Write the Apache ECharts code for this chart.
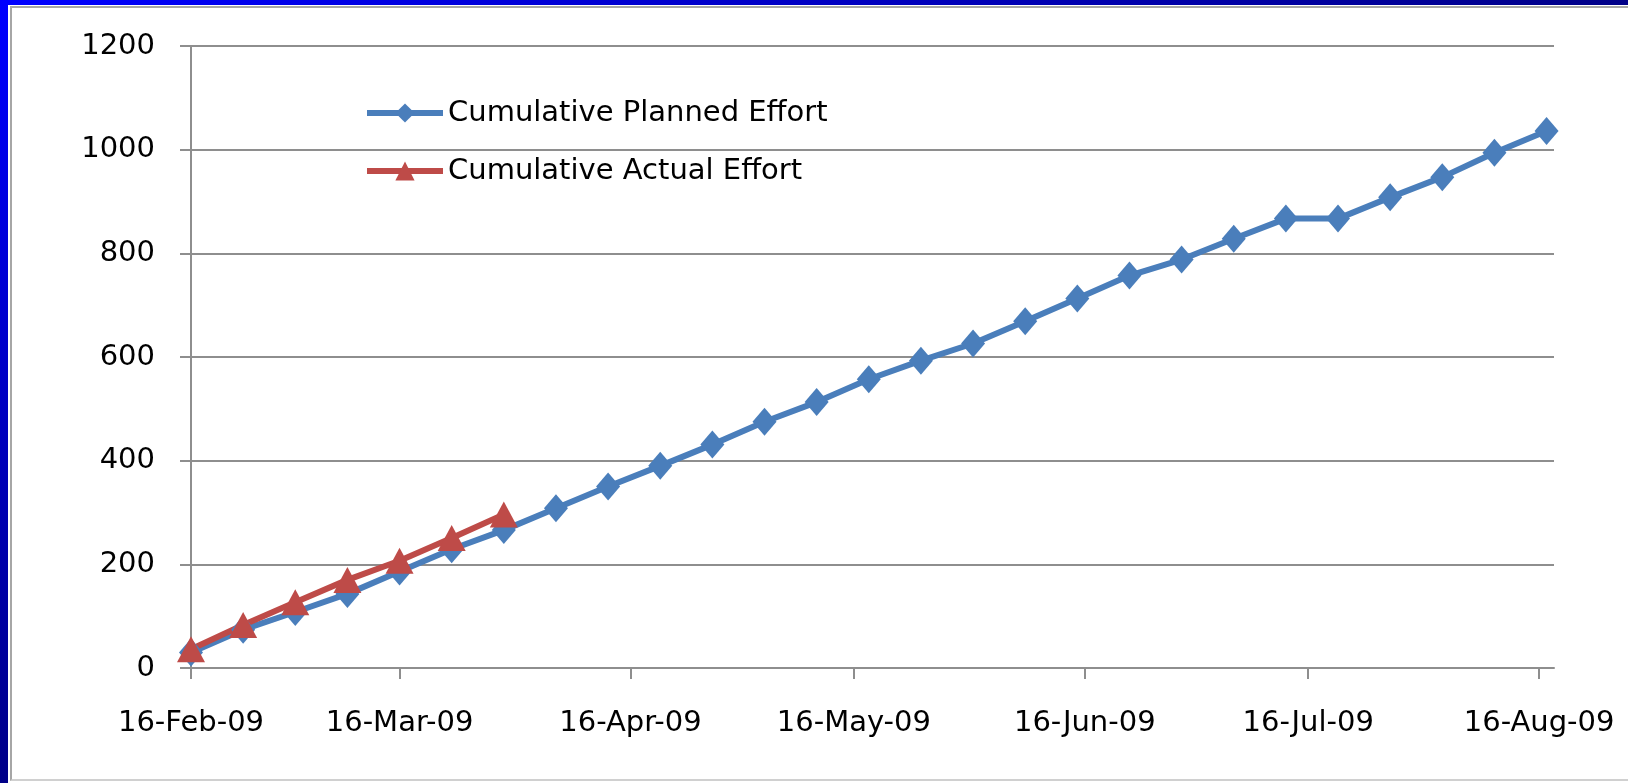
<!DOCTYPE html>
<html>
<head>
<meta charset="utf-8">
<script src="https://cdn.jsdelivr.net/npm/echarts@6/dist/echarts.min.js"></script>
<style>
  html, body { margin: 0; padding: 0; width: 1628px; height: 783px; overflow: hidden; background: #00008a; }
  #topStrip { position: absolute; left: 0; top: 0; width: 1628px; height: 5px; background: linear-gradient(to right, #0000ff, #000088); }
  #leftStrip { position: absolute; left: 0; top: 0; width: 8px; height: 783px; background: linear-gradient(to bottom, #0000ff, #000088); }
  #paper { position: absolute; left: 8px; top: 5px; width: 1620px; height: 778px; background: #fff; }
  #frame { position: absolute; left: 10px; top: 6px; width: 1618px; height: 775px; border-left: 2px solid #a6a6a6; border-top: 2px solid #a6a6a6; border-bottom: 2px solid #d0d0d0; box-sizing: border-box; }
  #chart { position: absolute; left: 0; top: 0; width: 1628px; height: 783px; }
</style>
</head>
<body>
<div id="topStrip"></div>
<div id="leftStrip"></div>
<div id="paper"></div>
<div id="frame"></div>
<div id="chart"></div>
<script>
// weekly dates
const dates = ['2009-02-16', '2009-02-23', '2009-03-02', '2009-03-09', '2009-03-16', '2009-03-23', '2009-03-30',
  '2009-04-06', '2009-04-13', '2009-04-20', '2009-04-27', '2009-05-04', '2009-05-11', '2009-05-18', '2009-05-25',
  '2009-06-01', '2009-06-08', '2009-06-15', '2009-06-22', '2009-06-29', '2009-07-06', '2009-07-13', '2009-07-20',
  '2009-07-27', '2009-08-03', '2009-08-10', '2009-08-17'];
const planned = [30, 74, 108, 143, 186, 229, 266, 308, 350, 390, 431, 475, 513, 557, 593, 626, 669, 713, 757, 788, 828, 867, 867, 908, 947, 994, 1036];
const actual = [36, 83, 127, 170, 207, 251, 296];
// x axis ticks (16th of each month)
const monthTicks = ['2009-02-16', '2009-03-16', '2009-04-16', '2009-05-16', '2009-06-16', '2009-07-16', '2009-08-16'];
const monthNames = ['Jan', 'Feb', 'Mar', 'Apr', 'May', 'Jun', 'Jul', 'Aug', 'Sep', 'Oct', 'Nov', 'Dec'];

function toTime(s) {
  const p = s.split('-');
  return Date.UTC(+p[0], +p[1] - 1, +p[2]);
}
function fmt(v) {
  const d = new Date(v);
  return d.getUTCDate() + '-' + monthNames[d.getUTCMonth()] + '-' + String(d.getUTCFullYear()).slice(2);
}

const font = 'DejaVu Sans';
const gray = '#8e8e8e';
const tickTimes = monthTicks.map(toTime);

const myChart = echarts.init(document.getElementById('chart'));
const opt = {
  backgroundColor: 'transparent',
  animation: false,
  color: ['#4a7ebb', '#be4b48'],
  textStyle: { fontFamily: font },
  grid: { left: 191, right: 74, top: 46, bottom: 115 },
  legend: {
    orient: 'vertical',
    left: 359,
    top: 93,
    itemWidth: 76,
    itemHeight: 24,
    itemGap: 28,
    lineStyle: { width: 6 },
    textStyle: { fontFamily: font, fontSize: 29, color: '#000', lineHeight: 30 },
    data: ['Cumulative Planned Effort', 'Cumulative Actual Effort']
  },
  xAxis: {
    type: 'value',
    min: toTime('2009-02-16'),
    max: toTime('2009-08-18'),
    axisLine: { lineStyle: { color: gray, width: 2 } },
    axisTick: { show: true, length: 11, lineStyle: { color: gray, width: 2 }, customValues: tickTimes },
    axisLabel: {
      customValues: tickTimes,
      formatter: fmt,
      fontFamily: font,
      fontSize: 29,
      color: '#000',
      margin: 41,
      hideOverlap: false,
      showMinLabel: true,
      showMaxLabel: true
    },
    splitLine: { show: false }
  },
  yAxis: {
    type: 'value',
    min: 0,
    max: 1200,
    interval: 200,
    axisLine: { show: true, lineStyle: { color: gray, width: 2 } },
    axisTick: { show: true, length: 11, lineStyle: { color: gray, width: 2 } },
    axisLabel: { fontFamily: font, fontSize: 29, color: '#000', margin: 36, formatter: (v) => String(v) },
    splitLine: { lineStyle: { color: gray, width: 2 } }
  },
  series: [
    {
      name: 'Cumulative Planned Effort',
      type: 'line',
      symbol: 'diamond',
      symbolSize: [24, 28],
      lineStyle: { width: 6 },
      data: dates.map((d, i) => [toTime(d), planned[i]])
    },
    {
      name: 'Cumulative Actual Effort',
      type: 'line',
      symbol: 'triangle',
      symbolSize: [28, 26],
      lineStyle: { width: 6 },
      data: actual.map((v, i) => [toTime(dates[i]), v])
    }
  ]
};
myChart.setOption(opt);
</script>
</body>
</html>
